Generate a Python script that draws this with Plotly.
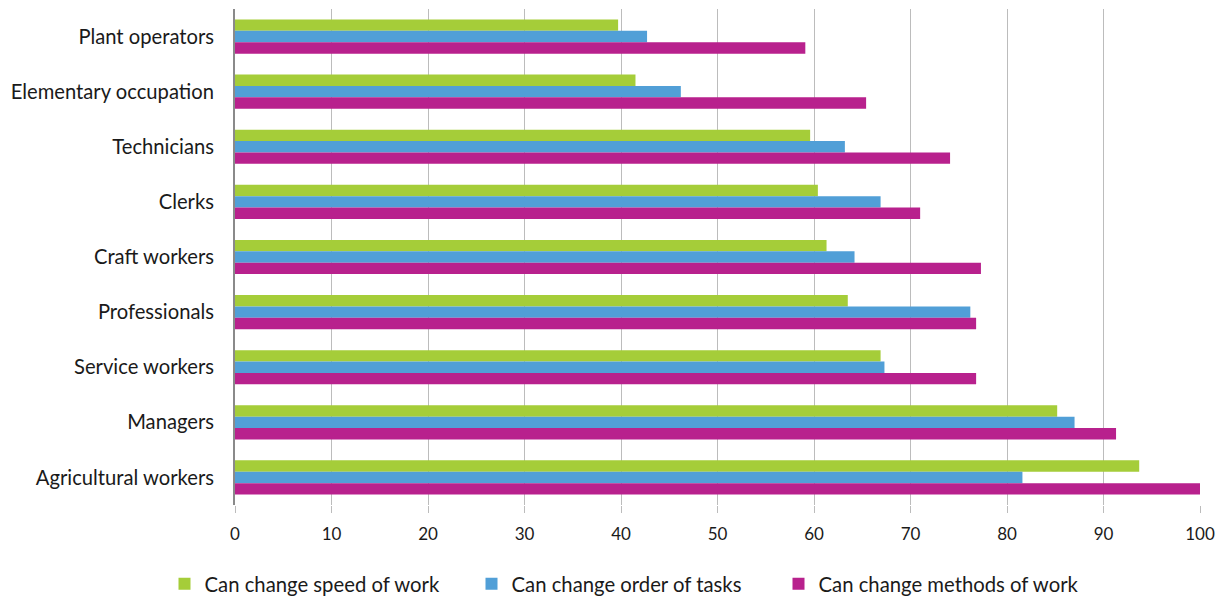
import plotly.graph_objects as go

categories = ["Plant operators", "Elementary occupation", "Technicians", "Clerks",
              "Craft workers", "Professionals", "Service workers", "Managers",
              "Agricultural workers"]
speed = [39.7, 41.5, 59.6, 60.4, 61.3, 63.5, 66.9, 85.2, 93.7]
order = [42.7, 46.2, 63.2, 66.9, 64.2, 76.2, 67.3, 87.0, 81.6]
methods = [59.1, 65.4, 74.1, 71.0, 77.3, 76.8, 76.8, 91.3, 100.0]
series_names = ["Can change speed of work", "Can change order of tasks",
                "Can change methods of work"]
colors = ["#a5cd39", "#519fd7", "#b8218d"]
x_ticks = [0, 10, 20, 30, 40, 50, 60, 70, 80, 90, 100]

fig = go.Figure()
for name, vals, col in zip(series_names, [speed, order, methods], colors):
    fig.add_trace(go.Bar(y=categories, x=vals, name=name, orientation="h",
                         marker=dict(color=col, line=dict(width=0))))

H = 593
W = 1208
font_family = "Lato, Noto Sans, sans-serif"
fig.update_layout(
    width=W, height=H,
    margin=dict(l=227, r=16, t=1, b=96),
    barmode="group", bargap=0.38, bargroupgap=0,
    plot_bgcolor="white", paper_bgcolor="white",
    font=dict(family=font_family, color="#1a1a1a"),
    legend=dict(orientation="h", xref="container", x=(625 - 8) / W, xanchor="center",
                yref="container", y=(H - 576) / H, yanchor="middle",
                font=dict(size=20.3), traceorder="normal", itemwidth=30,
                entrywidth=262),
    showlegend=True,
)
fig.update_xaxes(range=[0, 100], tickvals=x_ticks, showgrid=True,
                 gridcolor="#bcbcbc", gridwidth=1, zeroline=False,
                 showline=False, ticks="outside", ticklen=7, tickcolor="#bcbcbc",
                 tickfont=dict(size=17), ticklabelstandoff=7, automargin=False)
fig.update_yaxes(autorange="reversed", showline=True, linecolor="#8a8a8a",
                 linewidth=2, ticks="", tickfont=dict(size=20.2),
                 ticklabelstandoff=15, automargin=False)

fig.write_html("out.html")
